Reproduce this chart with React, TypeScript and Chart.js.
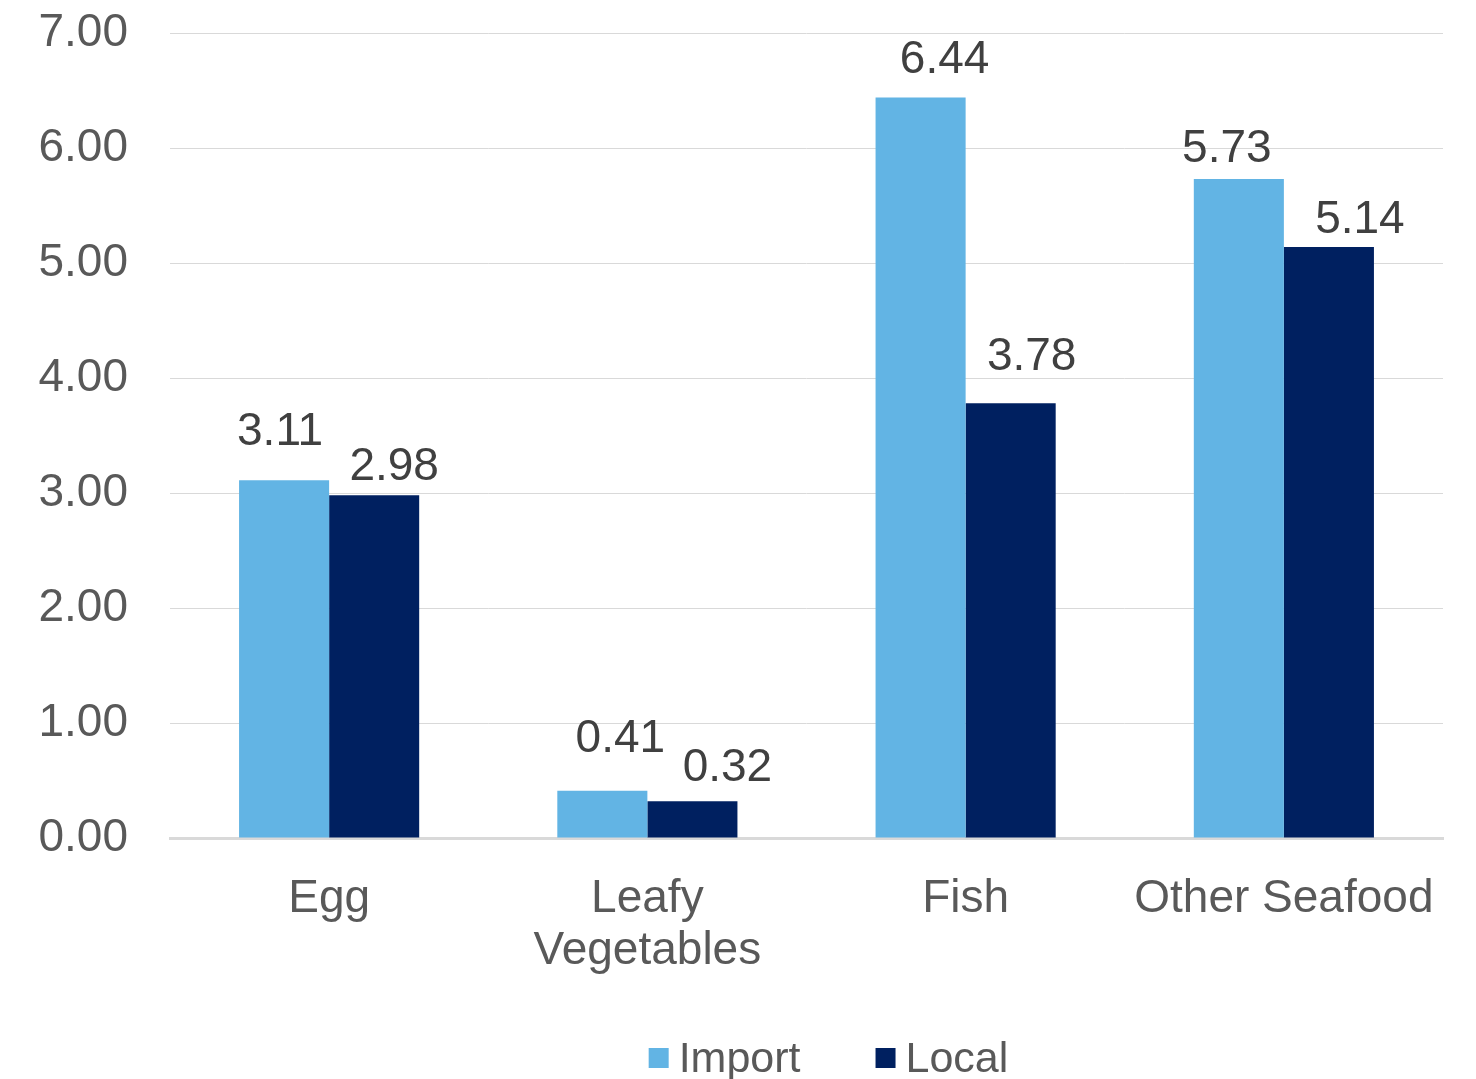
import React, { useEffect, useRef } from "react";
import { Chart, registerables } from "chart.js";

Chart.register(...registerables);

const categories: (string | string[])[] = ["Egg", ["Leafy", "Vegetables"], "Fish", "Other Seafood"];
const importValues = [3.11, 0.41, 6.44, 5.73];
const localValues = [2.98, 0.32, 3.78, 5.14];
const yTicks = [0, 1, 2, 3, 4, 5, 6, 7];

const FONT = '"Liberation Sans", Arial, sans-serif';
const IMPORT_COLOR = "#62B4E4";
const LOCAL_COLOR = "#002060";
const AXIS_TEXT = "#595959";
const LABEL_TEXT = "#404040";
const GRID = "#D9D9D9";

// Hand-placed label nudges: [dx, gap above bar top] per dataset / category
const importLabelNudge = [[-4, 35], [18, 39], [24, 24], [-12, 17]];
const localLabelNudge = [[20, 15], [35, 20], [21, 33], [31, 14]];

const valueLabels = {
  id: "valueLabels",
  afterDatasetsDraw(chart: Chart) {
    const ctx = chart.ctx;
    const nudges = [importLabelNudge, localLabelNudge];
    ctx.save();
    ctx.font = `46px ${FONT}`;
    ctx.fillStyle = LABEL_TEXT;
    ctx.textAlign = "center";
    ctx.textBaseline = "alphabetic";
    chart.data.datasets.forEach((ds, di) => {
      const meta = chart.getDatasetMeta(di);
      meta.data.forEach((bar: any, i: number) => {
        const v = ds.data[i] as number;
        const [dx, gap] = nudges[di][i];
        ctx.fillText(v.toFixed(2), bar.x + dx, bar.y - gap);
      });
    });
    ctx.restore();
  },
};

const bottomLegend = {
  id: "bottomLegend",
  afterDraw(chart: Chart) {
    const ctx = chart.ctx;
    const items = chart.data.datasets.map((ds) => ({
      label: ds.label as string,
      color: ds.backgroundColor as string,
    }));
    const box = 20;
    const boxGap = 10;
    const itemGap = 75;
    ctx.save();
    ctx.font = `43px ${FONT}`;
    const widths = items.map((it) => box + boxGap + ctx.measureText(it.label).width);
    const total = widths.reduce((a, b) => a + b, 0) + itemGap * (items.length - 1);
    const cx = (chart.chartArea.left + chart.chartArea.right) / 2 + 22;
    const baseline = chart.height - 7;
    let x = cx - total / 2;
    ctx.textBaseline = "alphabetic";
    ctx.textAlign = "left";
    items.forEach((it, i) => {
      ctx.fillStyle = it.color;
      ctx.fillRect(x, baseline - 24, box, box);
      ctx.fillStyle = AXIS_TEXT;
      ctx.fillText(it.label, x + box + boxGap, baseline);
      x += widths[i] + itemGap;
    });
    ctx.restore();
  },
};

export default function App() {
  const canvasRef = useRef<HTMLCanvasElement | null>(null);

  useEffect(() => {
    if (!canvasRef.current) return;
    const chart = new Chart(canvasRef.current, {
      type: "bar",
      data: {
        labels: categories,
        datasets: [
          {
            label: "Import",
            data: importValues,
            backgroundColor: IMPORT_COLOR,
            barPercentage: 1,
            categoryPercentage: 0.566,
          },
          {
            label: "Local",
            data: localValues,
            backgroundColor: LOCAL_COLOR,
            barPercentage: 1,
            categoryPercentage: 0.566,
          },
        ],
      },
      options: {
        responsive: false,
        animation: false,
        layout: { padding: { top: 0, right: 33, bottom: 0, left: 0 } },
        plugins: {
          legend: { display: false },
          tooltip: { enabled: false },
        },
        scales: {
          x: {
            grid: { display: false, drawTicks: false },
            border: { display: true, color: GRID, width: 3 },
            ticks: {
              color: AXIS_TEXT,
              font: { family: FONT, size: 46, lineHeight: 1.13 },
              padding: 35,
              maxRotation: 0,
              minRotation: 0,
              autoSkip: false,
            },
            afterFit(scale: any) {
              scale.height = 241;
            },
          },
          y: {
            min: 0,
            max: 7,
            afterBuildTicks(scale: any) {
              scale.ticks = yTicks.map((v) => ({ value: v }));
            },
            grid: {
              color: GRID,
              lineWidth: 1,
              drawTicks: true,
              tickLength: 42,
              tickColor: "rgba(0,0,0,0)",
            },
            border: { display: false },
            ticks: {
              color: AXIS_TEXT,
              font: { family: FONT, size: 46, lineHeight: 1.435 },
              padding: 0,
              callback: (v: any) => Number(v).toFixed(2),
            },
            afterFit(scale: any) {
              scale.width = 170;
            },
          },
        },
      },
      plugins: [valueLabels, bottomLegend],
    });
    return () => chart.destroy();
  }, []);

  return (
    <div style={{ position: "absolute", left: 0, top: 0, width: 1476, height: 1079, background: "#fff" }}>
      <canvas ref={canvasRef} width={1476} height={1079} />
    </div>
  );
}
